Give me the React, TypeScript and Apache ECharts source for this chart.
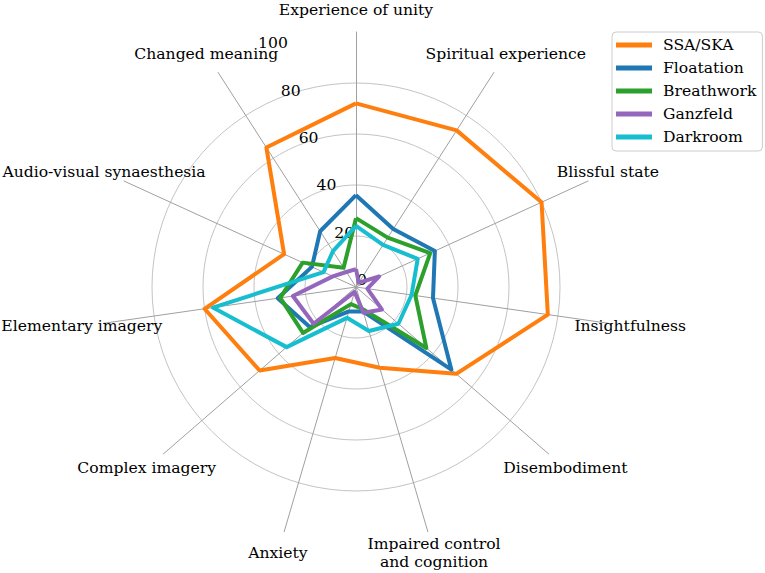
import React, { useEffect, useRef } from 'react';
import * as echarts from 'echarts';

// Categories in clockwise order starting at the top
const categories = [
  'Experience of unity',
  'Spiritual experience',
  'Blissful state',
  'Insightfulness',
  'Disembodiment',
  'Impaired control\nand cognition',
  'Anxiety',
  'Complex imagery',
  'Elementary imagery',
  'Audio-visual synaesthesia',
  'Changed meaning',
];

const seriesNames = ['SSA/SKA', 'Floatation', 'Breathwork', 'Ganzfeld', 'Darkroom'];

const ssaSka = [72, 73, 80, 76, 52, 33, 29, 50, 60, 31, 65];
const floatation = [36, 27, 34, 30.5, 49.5, 10, 10, 24, 31, 19, 26];
const breathwork = [27, 23, 32, 23.5, 36.5, 9, 7, 27.5, 30, 23, 9];
const ganzfeld = [7, 2, 10, 4.5, 13.5, 10.5, 2, 22, 25, 10, 7];
const darkroom = [24, 19.6, 26.6, 22, 22, 18, 12.6, 36, 56.7, 14, 16.7];

const radialTicks = [0, 20, 40, 60, 80, 100];

const colors = ['#ff7f0e', '#1f77b4', '#2ca02c', '#9467bd', '#17becf'];
const FONT = 'DejaVu Serif';
const FS = 15.6;

export default function App() {
  const ref = useRef<HTMLDivElement>(null);

  useEffect(() => {
    if (!ref.current) return;
    const chart = echarts.init(ref.current, null, { renderer: 'svg' });

    // ECharts radar places indicators counter-clockwise; reorder so they run clockwise
    const n = categories.length;
    const order = [0];
    for (let i = n - 1; i >= 1; i--) order.push(i);

    const allSeries = [ssaSka, floatation, breathwork, ganzfeld, darkroom];
    const maxV = radialTicks[radialTicks.length - 1];
    const step = radialTicks[1] - radialTicks[0];

    const option: any = {
      animation: false,
      textStyle: { fontFamily: FONT },
      radar: {
        center: [356, 287],
        radius: 255,
        startAngle: 90,
        shape: 'circle',
        splitNumber: radialTicks.length - 1,
        nameGap: 22,
        indicator: order.map((i) => ({ name: categories[i], min: 0, max: maxV })),
        axisName: {
          color: '#000',
          fontFamily: FONT,
          fontSize: FS,
          lineHeight: 18,
          align: 'center',
          verticalAlign: 'middle',
        },
        axisLine: { lineStyle: { color: '#a0a0a0', width: 1 } },
        splitLine: {
          lineStyle: {
            color: ['rgba(0,0,0,0)', '#c4c4c4', '#c4c4c4', '#c4c4c4', '#c4c4c4', 'rgba(0,0,0,0)'],
            width: 1,
          },
        },
        splitArea: { show: false },
        axisTick: { show: false },
        axisLabel: { show: false },
      },
      polar: { center: [362, 280], radius: 253 },
      angleAxis: { type: 'value', min: 0, max: 360, startAngle: 110.6, show: false },
      radiusAxis: {
        type: 'value',
        min: 0,
        max: maxV,
        interval: step,
        axisLine: { show: false },
        axisTick: { show: false },
        splitLine: { show: false },
        axisLabel: {
          margin: 0,
          align: 'center',
          verticalAlign: 'middle',
          fontFamily: FONT,
          fontSize: FS,
          color: '#000',
          showMinLabel: true,
          showMaxLabel: true,
        },
      },
      legend: {
        orient: 'vertical',
        left: 612,
        top: 32,
        data: seriesNames,
        icon: 'rect',
        itemWidth: 36,
        itemHeight: 5,
        itemGap: 7,
        padding: [5, 6, 6, 4],
        borderColor: '#cccccc',
        borderWidth: 1,
        borderRadius: 4,
        backgroundColor: '#fff',
        textStyle: { fontFamily: FONT, fontSize: FS, color: '#000', padding: [0, 0, 0, 6] },
      },
      series: [
        {
          type: 'radar',
          symbol: 'none',
          data: seriesNames.map((name, k) => ({
            name,
            value: order.map((i) => allSeries[k][i]),
            lineStyle: { color: colors[k], width: 4 },
            itemStyle: { color: colors[k] },
          })),
        },
      ],
    };

    chart.setOption(option);
    return () => chart.dispose();
  }, []);

  return (
    <div
      ref={ref}
      style={{ position: 'fixed', left: 0, top: 0, width: 765, height: 573, background: '#fff' }}
    />
  );
}
